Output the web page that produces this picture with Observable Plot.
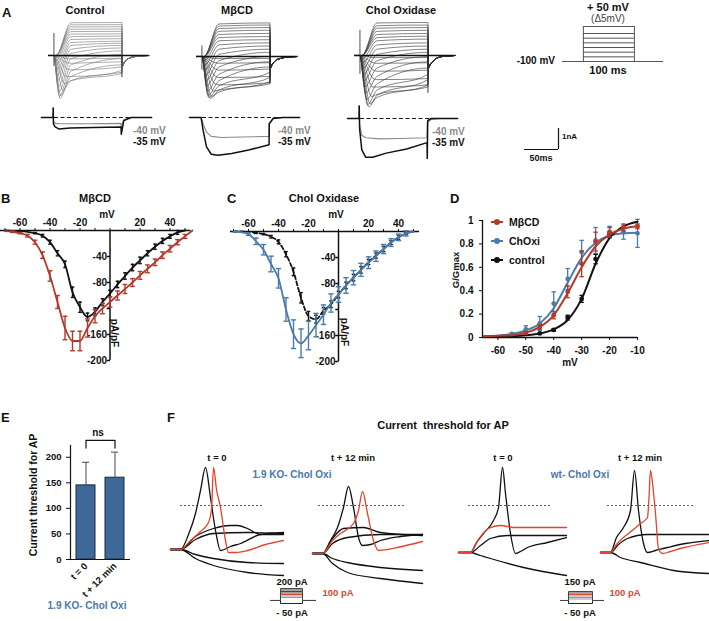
<!DOCTYPE html>
<html><head><meta charset="utf-8">
<script src="https://cdn.jsdelivr.net/npm/d3@7"></script>
<script src="https://cdn.jsdelivr.net/npm/@observablehq/plot@0.6"></script>
<style>
body{margin:0;background:#fff;}
#fig{position:relative;width:709px;height:621px;overflow:hidden;background:#fff;font-family:"Liberation Sans",Arial,Helvetica,sans-serif;color:#111;}
#fig .t{position:absolute;white-space:pre;font-weight:bold;line-height:1;}
#fig svg{overflow:visible;}
</style></head><body><div id="fig"></div>
<script>
// ---------------- DATA ----------------
// Panel A: voltage-clamp current families (nA); one entry per test step
const sweepVolts = [-60,-55,-50,-45,-40,-35,-30,-25,-20,-15,-10,-5,0,5,10,15,20,25,30,35,40,45,50];
const ctrlTp   = [20,20,20,20,18,16,13,10,9,8,7,6,5,4.5,4,3.5,3,3,3,3,3,3,3];
const ctrlPeak = [-0.05,-0.15,-0.35,-0.65,-1.0,-1.35,-1.65,-1.9,-2.05,-1.95,-1.75,-1.5,-1.2,-0.95,-0.7,-0.45,-0.25,-0.1,0,0,0,0,0];
const ctrlMid  = [-0.05,-0.16,-0.37,-0.68,-1.0,-1.2,-1.2,-1.0,-0.75,-0.45,-0.15,0.1,0.3,0.48,0.62,0.76,0.9,1.02,1.14,1.25,1.36,1.46,1.56];
const ctrlEnd  = [-0.04,-0.13,-0.3,-0.55,-0.8,-0.85,-0.7,-0.45,-0.15,0.05,0.22,0.36,0.48,0.58,0.68,0.8,0.92,1.03,1.15,1.26,1.37,1.47,1.57];
const mbTp   = [20,20,20,20,19,17,14,12,10,9,8,7,6,5,4.5,4,3.5,3,3,3,3,3,3];
const mbPeak = [-0.1,-0.3,-0.6,-0.95,-1.3,-1.65,-1.9,-2.0,-1.95,-1.85,-1.65,-1.4,-1.15,-0.9,-0.65,-0.4,-0.2,-0.05,0,0,0,0,0];
const mbMid  = [-0.1,-0.32,-0.65,-1.0,-1.35,-1.6,-1.7,-1.6,-1.4,-1.15,-0.85,-0.5,-0.2,0.1,0.35,0.55,0.75,0.9,1.05,1.2,1.33,1.45,1.55];
const mbEnd  = [-0.1,-0.3,-0.6,-0.95,-1.25,-1.3,-1.2,-1.0,-0.75,-0.5,-0.25,0,0.2,0.35,0.5,0.65,0.8,0.95,1.1,1.25,1.38,1.5,1.6];
const chTp   = [20,20,20,20,19,17,15,13,11,10,8,7,6,5,4.5,4,3.5,3,3,3,3,3,3];
const chPeak = [-0.1,-0.35,-0.7,-1.1,-1.5,-1.95,-2.3,-2.45,-2.35,-2.1,-1.8,-1.5,-1.2,-0.9,-0.6,-0.35,-0.15,0,0,0,0,0,0];
const chMid  = [-0.1,-0.37,-0.75,-1.15,-1.5,-1.85,-2.0,-1.9,-1.65,-1.35,-1.0,-0.6,-0.25,0.05,0.3,0.5,0.7,0.85,1.0,1.15,1.3,1.42,1.55];
const chEnd  = [-0.1,-0.35,-0.7,-1.1,-1.4,-1.5,-1.4,-1.15,-0.9,-0.6,-0.3,-0.05,0.15,0.3,0.45,0.6,0.78,0.92,1.05,1.2,1.33,1.45,1.57];
const tailT    = [100.6,103,108,115,125,140];
const ctrlTail = [-0.5,-0.35,-0.18,-0.08,-0.02,0];
const mbTail   = [-0.55,-0.4,-0.2,-0.1,-0.03,0];
const chTail   = [-0.6,-0.45,-0.25,-0.1,-0.03,0];
const artifactUp   = [1.05, 0.5, 1.2];   // onset capacitive spike (nA): control, MβCD, Chol
const artifactDown = [-1.05, -1.3, -1.8]; // offset spike (nA)
// Panel A lower row: -40 mV and -35 mV sweeps, [ms, nA]
const ctrlM40 = [[-17,0],[0,0],[0.2,0.45],[0.6,-0.2],[3,-0.28],[10,-0.3],[50,-0.3],[100,-0.28],[100.3,-0.45],[104,-0.1],[115,0],[145,0]];
const ctrlM35 = [[-17,0],[0,0],[0.2,0.45],[0.6,-0.3],[3,-0.45],[9,-0.55],[25,-0.5],[60,-0.48],[100,-0.45],[100.3,-0.8],[104,-0.15],[115,0],[145,0]];
const mbM40 = [[-17,0],[0,0],[3,-0.3],[8,-0.7],[15,-0.9],[30,-0.95],[60,-0.93],[100,-0.9],[100.3,-0.3],[106,-0.05],[120,0],[145,0]];
const mbM35 = [[-17,0],[0,0],[3,-0.6],[8,-1.4],[15,-1.75],[25,-1.8],[45,-1.72],[70,-1.55],[100,-1.3],[100.3,-0.3],[106,-0.05],[120,0],[145,0]];
const chM40 = [[-17,0],[0,0],[0.2,0.6],[0.8,-0.3],[4,-0.8],[10,-0.92],[30,-0.97],[60,-0.95],[100,-0.92],[100.3,-0.2],[106,-0.05],[120,0],[145,0]];
const chM35 = [[-17,0],[0,0],[0.2,0.6],[0.8,-0.5],[4,-1.5],[10,-1.85],[20,-1.85],[40,-1.65],[70,-1.45],[100,-1.15],[100.3,-1.9],[101,-0.1],[106,0],[145,0]];
// Protocol
const protoHold = -100;
const protoLevels = [-80,-60,-40,-20,0,20,50];
const protoT = [-41, 0, 100, 157];
const scaleBarMs = 50, scaleBarNA = 1;

// Panels B, C: I-V (pA/pF)
const ivV = [-70,-65,-60,-55,-50,-45,-40,-35,-30,-25,-20,-15,-10,-5,0,5,10,15,20,25,30,35,40,45,50,55];
const bCtrl    = [0,-0.5,-1,-2,-4,-8,-18,-35,-52,-95,-118,-133,-125,-110,-97,-83,-70,-57,-46,-35,-25,-16,-9,-3,0,null];
const bCtrlErr = [0,0,0,0,1,2,3,4,5,8,8,6,6,5,5,5,5,5,5,4,4,4,3,3,0,null];
const bMb      = [-1,-2,-4,-8,-18,-38,-70,-110,-150,-170,-170,-150,-132,-120,-110,-100,-90,-80,-69,-59,-49,-38,-28,-18,-9,0];
const bMbErr   = [0,1,1,2,3,5,8,10,18,15,15,14,10,8,8,7,7,6,6,6,5,5,5,4,3,0];
const cCtrl    = [0,0,-1,-2,-4,-8,-16,-35,-62,-102,-130,-135,-122,-112,-97,-83,-71,-59,-47,-37,-27,-17,-9,-3,0,null];
const cCtrlErr = [0,0,0,1,1,2,3,4,6,8,7,6,5,5,5,5,5,5,4,4,4,3,3,2,0,null];
const cCh      = [0,-1,-4,-15,-28,-50,-72,-120,-158,-172,-160,-144,-128,-110,-97,-83,-71,-59,-48,-38,-27,-17,-9,-3,0,null];
const cChErr   = [0,0,2,5,8,12,15,18,22,22,22,18,15,14,12,12,11,10,9,8,7,6,5,4,0,null];
const ivTicksX = [-70,-60,-50,-40,-30,-20,-10,0,10,20,30,40,50];
const ivLabelsX = [-60,-40,-20,20,40];
const ivTicksY = [-40,-80,-120,-160,-200];
const ivLabelsY = [-40,-80,-160,-200];

// Panel D: G/Gmax
const dFitV   = [-65,-60,-55,-50,-45,-40,-35,-30,-25,-20,-15,-10];
const dFitCtrl= [0.005,0.008,0.012,0.02,0.035,0.07,0.15,0.33,0.63,0.85,0.95,0.99];
const dFitMb  = [0.01,0.015,0.02,0.04,0.09,0.19,0.38,0.6,0.78,0.88,0.93,0.95];
const dFitCh  = [0.01,0.015,0.03,0.06,0.12,0.25,0.47,0.68,0.81,0.87,0.89,0.895];
const dCtrlV = [-45,-40,-35,-30,-25,-20], dCtrlG = [0.035,0.065,0.17,0.33,0.67,0.88], dCtrlE = [0.005,0.01,0.02,0.03,0.04,0.02];
const dMbV = [-50,-45,-40,-35,-30,-25,-20,-15,-10], dMbG = [0.04,0.09,0.19,0.39,0.63,0.82,0.9,0.94,0.95], dMbE = [0.01,0.02,0.03,0.05,0.11,0.08,0.04,0.03,0.02];
const dChV = [-55,-50,-45,-40,-35,-30,-25,-20,-15,-10], dChG = [0.03,0.07,0.12,0.29,0.5,0.73,0.83,0.9,0.9,0.89], dChE = [0.01,0.03,0.06,0.1,0.09,0.1,0.11,0.05,0.06,0.12];
const dTicksX = [-60,-50,-40,-30,-20,-10];
const dTicksY = [0,0.2,0.4,0.6,0.8,1];
const dLegend = ["MβCD","ChOxi","control"];

// Panel E
const eCats = ["t = 0","t + 12 min"];
const eMeans = [145,160];
const eErr = [45,50];
const eTicksY = [0,50,100,150,200];

// Panel F: membrane potential traces, [ms, mV]
const f1 = {
  black: [
    [[0,-65],[10,-65],[18,-50],[25,-29],[30,-6],[35,17],[40,-13],[45,-46],[50,-66],[60,-62],[70,-59],[90,-50],[113,-48]],
    [[0,-65],[10,-65],[25,-52],[43,-44],[60,-41],[67,-41],[77,-44],[90,-50],[113,-50]],
    [[0,-65],[10,-65],[25,-55],[43,-49],[77,-48],[113,-49]],
    [[0,-65],[10,-65],[25,-70],[43,-74],[77,-78],[113,-79]],
    [[0,-65],[10,-65],[25,-74],[43,-81],[77,-88],[113,-91]]
  ],
  red: [[0,-65],[10,-65],[20,-56],[30,-47],[38,-38],[41,-25],[43,17],[46,-5],[50,-23],[55,-56],[58,-68],[65,-68],[77,-66],[95,-60],[113,-56]]
};
const f2 = {
  black: [
    [[0,-65],[10,-65],[18,-52],[25,-39],[31,-19],[36,2],[41,-19],[46,-49],[50,-57],[58,-56],[68,-52],[88,-48],[110,-46]],
    [[0,-65],[10,-65],[20,-50],[31,-40],[51,-39],[68,-44],[110,-47]],
    [[0,-65],[10,-65],[20,-55],[35,-49],[68,-46],[110,-46]],
    [[0,-65],[10,-65],[20,-70],[35,-74],[68,-79],[110,-82]],
    [[0,-65],[10,-65],[20,-75],[35,-84],[68,-90],[110,-95]]
  ],
  red: [[0,-65],[10,-65],[20,-52],[28,-45],[41,-35],[46,-22],[50,-3],[55,-25],[61,-52],[66,-62],[75,-61],[85,-59],[110,-53]]
};
const f3 = {
  black: [
    [[0,-65],[12,-65],[18,-55],[25,-46],[35,-33],[40,-20],[44,20],[47,-6],[52,-46],[57,-66],[62,-64],[69,-60],[89,-55],[108,-50]],
    [[0,-65],[12,-65],[22,-58],[32,-51],[49,-48],[108,-48]],
    [[0,-65],[12,-65],[22,-68],[32,-71],[65,-80],[108,-88]]
  ],
  red: [[0,-65],[12,-65],[20,-52],[30,-41],[42,-38],[55,-40],[75,-40],[108,-40]]
};
const f4 = {
  black: [
    [[0,-65],[10,-65],[16,-50],[23,-40],[30,-23],[34,17],[38,-23],[43,-56],[47,-65],[55,-63],[67,-60],[85,-56],[109,-53]],
    [[0,-65],[10,-65],[18,-57],[27,-51],[47,-47],[109,-47]],
    [[0,-65],[10,-65],[20,-70],[40,-75],[73,-83],[109,-86]]
  ],
  red: [[0,-65],[10,-65],[16,-57],[23,-50],[33,-42],[40,-36],[47,-30],[48.5,-10],[50,17],[53,-5],[55,-26],[58,-61],[62,-66],[70,-64],[80,-61],[109,-55]]
};
const fThreshold = [-21,-17,-18,-18];
const stimLevelsKO = [200,175,150,125,100,75,50,-50];
const stimLevelsWT = [150,125,100,75,50,25,-50];
const stimRed = 100;

// ---------------- RENDER ----------------
const fig = document.getElementById("fig");
const FONT = '"Liberation Sans", Arial, Helvetica, sans-serif';
const RED = "#b3392c", BLUE = "#4b7bab", FRED = "#e6432b", TBLUE = "#4a78aa";
const baseStyle = {fontFamily: FONT, fontSize: "10px", fontWeight: "bold", background: "none", overflow: "visible", color: "#111"};
function place(node, left, top){ node.style.position="absolute"; node.style.left=left+"px"; node.style.top=top+"px"; fig.appendChild(node); }
function T(s, x, y, o={}){
  const d=document.createElement("div"); d.className="t"; d.textContent=s;
  d.style.left=x+"px"; d.style.top=y+"px"; d.style.fontSize=(o.size||11)+"px";
  if(o.color) d.style.color=o.color;
  if(o.normal) d.style.fontWeight="normal";
  const a=o.anchor||"middle";
  const tx=a==="middle"?"-50%":a==="end"?"-100%":"0";
  d.style.transform=`translate(${tx},-50%)`+(o.rotate?` rotate(${o.rotate}deg)`:"");
  fig.appendChild(d);
}

// ---- Panel A top traces ----
const PX_MS = 0.68, PX_NA = 21;
function topTraces(c, onsetX, baseY, color, k){
  const rows=[];
  sweepVolts.forEach((v,i)=>{
    const pts=[[-8,0],[0,0],[c.tp[i],c.peak[i]],[25,c.mid[i]],[100,c.end[i]], ...tailT.map((t,j)=>[t,c.tail[j]])];
    pts.forEach(([t,I])=>rows.push({v,t,I}));
  });
  const top=16, h=96;
  const p = Plot.plot({width:148*PX_MS, height:h, margin:0, style:baseStyle,
    x:{domain:[-8,140], axis:null},
    y:{domain:[-(top+h-baseY)/PX_NA,(baseY-top)/PX_NA], axis:null},
    marks:[
      Plot.line(rows,{x:"t",y:"I",z:"v",stroke:color,strokeWidth:0.6,curve:"monotone-x"}),
      Plot.ruleY([0],{stroke:"#111",strokeWidth:1.6}),
      Plot.ruleX([0],{y1:artifactDown[k]*0.5,y2:artifactUp[k],stroke:"#222",strokeWidth:0.8}),
      Plot.ruleX([100],{y1:artifactDown[k],y2:0,stroke:"#222",strokeWidth:0.9})
    ]});
  place(p, onsetX-8*PX_MS, top);
}
topTraces({tp:ctrlTp,peak:ctrlPeak,mid:ctrlMid,end:ctrlEnd,tail:ctrlTail}, 53, 55, "#777", 0);
topTraces({tp:mbTp,peak:mbPeak,mid:mbMid,end:mbEnd,tail:mbTail}, 201, 56, "#333", 1);
topTraces({tp:chTp,peak:chPeak,mid:chMid,end:chEnd,tail:chTail}, 359, 55, "#333", 2);

// ---- Panel A lower traces ----
function lowTraces(g, b, onsetX, baseY){
  const top=100, h=65;
  const p = Plot.plot({width:162*PX_MS, height:h, margin:0, style:baseStyle,
    x:{domain:[-17,145], axis:null},
    y:{domain:[-(top+h-baseY)/PX_NA,(baseY-top)/PX_NA], axis:null},
    marks:[
      Plot.ruleY([0],{stroke:"#111",strokeWidth:1,strokeDasharray:"4,2.5"}),
      Plot.line(g,{x:d=>d[0],y:d=>d[1],stroke:"#8a8a8a",strokeWidth:1.1}),
      Plot.line(b,{x:d=>d[0],y:d=>d[1],stroke:"#111",strokeWidth:1.5})
    ]});
  place(p, onsetX-17*PX_MS, top);
}
lowTraces(ctrlM40, ctrlM35, 53, 117);
lowTraces(mbM40, mbM35, 201, 117);
lowTraces(chM40, chM35, 359, 118);

// ---- Protocol ----
{
  const yPx = 35/150;
  const p = Plot.plot({width:101, height:45, margin:0, style:baseStyle,
    x:{domain:[protoT[0],protoT[3]], axis:null},
    y:{domain:[protoHold-4/yPx, 50+6/yPx], axis:null},
    marks:[
      Plot.ruleY([protoHold],{x1:protoT[0],x2:protoT[3],stroke:"#555",strokeWidth:1}),
      Plot.ruleY(protoLevels,{x1:protoT[1],x2:protoT[2],stroke:"#555",strokeWidth:1}),
      Plot.ruleX([protoT[1],protoT[2]],{y1:protoHold,y2:d3.max(protoLevels),stroke:"#555",strokeWidth:1})
    ]});
  place(p, 562, 20);
}
// ---- Scale bars ----
{
  const p = Plot.plot({width:40, height:30, margin:0, style:baseStyle,
    x:{domain:[0,40/PX_MS], axis:null},
    y:{domain:[-6/PX_NA, 24/PX_NA], axis:null},
    marks:[
      Plot.ruleY([0],{x1:0,x2:scaleBarMs,stroke:"#111",strokeWidth:1.2}),
      Plot.ruleX([scaleBarMs],{y1:0,y2:scaleBarNA,stroke:"#111",strokeWidth:1.2})
    ]});
  place(p, 524, 125);
}

// ---- Panels B, C ----
function ivPanel(left, top, xdom, A, Aerr, Acolor, Adash, B, Berr, Bcolor, capA, capB){
  const rows = ivV.map((v,i)=>({v, a:A[i], ae:Aerr[i], b:B[i], be:Berr[i]}));
  const ea = rows.filter(d=>d.a!=null && d.ae>0);
  const eb = rows.filter(d=>d.b!=null && d.be>0);
  const p = Plot.plot({width: (xdom[1]-xdom[0])*1.5+10, height:170, marginTop:30, marginBottom:10, marginLeft:0, marginRight:10,
    style:baseStyle,
    x:{domain:xdom}, y:{domain:[-200,0], axis:null},
    marks:[
      Plot.ruleY([0],{stroke:"#111",strokeWidth:1.5}),
      Plot.axisX({anchor:"top", ticks:ivTicksX, tickSize:3, tickPadding:2, label:null, tickFormat:d=>ivLabelsX.includes(d)?String(d):""}),
      Plot.ruleX([0],{y1:-200,y2:0,stroke:"#111",strokeWidth:1.5}),
      Plot.link(ivTicksY,{x1:-2.2,x2:0,y1:d=>d,y2:d=>d,stroke:"#111",strokeWidth:1.5}),
      Plot.text(ivLabelsY,{x:0,y:d=>d,dx:-3,textAnchor:"end",text:d=>String(d),fill:"#111"}),
      Plot.line(rows.filter(d=>d.a!=null),{x:"v",y:"a",stroke:Acolor,strokeWidth:1.8,strokeDasharray:Adash,curve:"monotone-x"}),
      Plot.ruleX(ea,{x:"v",y1:d=>d.a-d.ae,y2:d=>d.a+d.ae,stroke:Acolor,strokeWidth:1.4}),
      Plot.link(ea,{x1:d=>d.v-capA,x2:d=>d.v+capA,y1:d=>d.a-d.ae,y2:d=>d.a-d.ae,stroke:Acolor,strokeWidth:1.4}),
      Plot.link(ea,{x1:d=>d.v-capA,x2:d=>d.v+capA,y1:d=>d.a+d.ae,y2:d=>d.a+d.ae,stroke:Acolor,strokeWidth:1.4}),
      Plot.line(rows.filter(d=>d.b!=null),{x:"v",y:"b",stroke:Bcolor,strokeWidth:1.8,curve:"monotone-x"}),
      Plot.ruleX(eb,{x:"v",y1:d=>d.b-d.be,y2:d=>d.b+d.be,stroke:Bcolor,strokeWidth:1.4}),
      Plot.link(eb,{x1:d=>d.v-capB,x2:d=>d.v+capB,y1:d=>d.b-d.be,y2:d=>d.b-d.be,stroke:Bcolor,strokeWidth:1.4}),
      Plot.link(eb,{x1:d=>d.v-capB,x2:d=>d.v+capB,y1:d=>d.b+d.be,y2:d=>d.b+d.be,stroke:Bcolor,strokeWidth:1.4})
    ]});
  place(p, left, top);
}
ivPanel(0, 200, [-73,54], bCtrl, bCtrlErr, "#111", null, bMb, bMbErr, RED, 1.2, 1.6);
ivPanel(230, 201, [-72,54], cCtrl, cCtrlErr, "#111", "4,2.5", cCh, cChErr, BLUE, 1.2, 1.8);

// ---- Panel D ----
{
  const fit = dFitV.map((v,i)=>({v, c:dFitCtrl[i], m:dFitMb[i], h:dFitCh[i]}));
  const pts = (V,G,E)=>V.map((v,i)=>({v,g:G[i],e:E[i]}));
  const pc = pts(dCtrlV,dCtrlG,dCtrlE), pm = pts(dMbV,dMbG,dMbE), ph = pts(dChV,dChG,dChE);
  const err = (P,color)=>[
    Plot.ruleX(P,{x:"v",y1:d=>d.g-d.e,y2:d=>d.g+d.e,stroke:color,strokeWidth:1.3}),
    Plot.link(P,{x1:d=>d.v-0.8,x2:d=>d.v+0.8,y1:d=>d.g+d.e,y2:d=>d.g+d.e,stroke:color,strokeWidth:1.3}),
    Plot.link(P,{x1:d=>d.v-0.8,x2:d=>d.v+0.8,y1:d=>d.g-d.e,y2:d=>d.g-d.e,stroke:color,strokeWidth:1.3}),
    Plot.dot(P,{x:"v",y:"g",r:2.4,fill:color})
  ];
  const p = Plot.plot({width:210, height:175, marginLeft:42, marginRight:13, marginTop:15, marginBottom:43, style:baseStyle,
    x:{domain:[-65.5,-10], ticks:dTicksX, tickSize:3, label:null, tickFormat:d=>String(d)},
    y:{domain:[0,1], ticks:dTicksY, tickSize:3, label:null, tickFormat:d=>d===0?"0":d===1?"1":String(d)},
    marks:[
      Plot.ruleX([-65.5],{y1:0,y2:1,stroke:"#111",strokeWidth:1.3}),
      Plot.ruleY([0],{stroke:"#111",strokeWidth:1.3}),
      Plot.line(fit,{x:"v",y:"h",stroke:BLUE,strokeWidth:2,curve:"monotone-x"}),
      ...err(ph,BLUE),
      Plot.line(fit,{x:"v",y:"c",stroke:"#111",strokeWidth:2,curve:"monotone-x"}),
      ...err(pc,"#111"),
      Plot.line(fit,{x:"v",y:"m",stroke:RED,strokeWidth:2,curve:"monotone-x"}),
      ...err(pm,RED)
    ]});
  place(p, 440, 205);
  // legend
  const lg = document.createElement("div");
  const cols = [RED, BLUE, "#111"];
  lg.innerHTML = `<svg width="80" height="56" style="font-family:${FONT.replace(/"/g,"'")};font-weight:bold;font-size:10.5px">` +
    dLegend.map((n,i)=>`<line x1="3" x2="15" y1="${8+i*19}" y2="${8+i*19}" stroke="${cols[i]}" stroke-width="2"/><circle cx="9" cy="${8+i*19}" r="3" fill="${cols[i]}"/><text x="21" y="${8+i*19}" dy="0.35em" fill="#111">${n}</text>`).join("") + `</svg>`;
  place(lg, 488, 214);
}

// ---- Panel E ----
{
  const rows = eCats.map((c,i)=>({c, v:eMeans[i], e:eErr[i]}));
  const bLow = d3.max(rows,d=>d.v+d.e)+8, bHigh = bLow+15;
  const br = [{c:eCats[0],y:bLow},{c:eCats[0],y:bHigh},{c:eCats[1],y:bHigh},{c:eCats[1],y:bLow}];
  const p = Plot.plot({width:140, height:179, marginLeft:70, marginRight:10, marginTop:15, marginBottom:50,
    style:{...baseStyle, fontSize:"9.5px"},
    x:{domain:eCats, paddingInner:0.33, paddingOuter:0.17, tickSize:0, tickRotate:-45, tickPadding:5, label:null},
    y:{domain:[0,223], ticks:eTicksY, tickSize:4, label:null},
    marks:[
      Plot.ruleX(rows,{x:"c",y1:"v",y2:d=>d.v+d.e,stroke:"#666",strokeWidth:1.2}),
      Plot.tickY(rows,{x:"c",y:d=>d.v+d.e,insetLeft:6,insetRight:6,stroke:"#666",strokeWidth:1.2}),
      Plot.barY(rows,{x:"c",y:"v",fill:"#3d6897",stroke:"#1c2c3c",strokeWidth:1}),
      Plot.line(br,{x:"c",y:"y",stroke:"#111",strokeWidth:1.2}),
      Plot.ruleY([0],{stroke:"#111",strokeWidth:1.2}),
      Plot.frame({anchor:"left",stroke:"#111",strokeWidth:1.2})
    ]});
  place(p, 0, 430);
}

// ---- Panel F ----
function fPanel(f, left, top, wMs, thr, thrX){
  const marks = [Plot.ruleY([thr],{x1:thrX[0],x2:thrX[1],stroke:"#333",strokeWidth:0.8,strokeDasharray:"2,2"})];
  f.black.forEach(tr=>marks.push(Plot.line(tr,{x:d=>d[0],y:d=>d[1],stroke:"#111",strokeWidth:1.3,curve:"monotone-x"})));
  marks.push(Plot.line(f.red,{x:d=>d[0],y:d=>d[1],stroke:FRED,strokeWidth:1.3,curve:"monotone-x"}));
  const p = Plot.plot({width:wMs, height:130, margin:0, style:baseStyle,
    x:{domain:[0,wMs], axis:null}, y:{domain:[-106,24], axis:null}, marks});
  place(p, left, top);
}
fPanel(f1, 170, 460, 113, fThreshold[0], [10,92]);
fPanel(f2, 312, 464, 110, fThreshold[1], [6,93]);
fPanel(f3, 458, 463, 108, fThreshold[2], [10,94]);
fPanel(f4, 600, 463, 109, fThreshold[3], [7,93]);

function stimInset(levels, stimT, left){
  const rows=[];
  levels.forEach(L=>[[stimT[0],0],[stimT[1],0],[stimT[1],L],[stimT[2],L],[stimT[2],0],[stimT[3],0]].forEach(([t,y])=>rows.push({L,t,y})));
  const col = L => L===stimRed ? FRED : L>stimRed ? "#444" : L>0 ? "#999" : "#222";
  const p = Plot.plot({width:stimT[3], height:22, margin:0, style:baseStyle,
    x:{domain:[0,stimT[3]], axis:null}, y:{domain:[-117,250], axis:null},
    marks:[...levels.slice().reverse().map(L=>Plot.line(rows.filter(d=>d.L===L),{x:"t",y:"y",stroke:col(L),strokeWidth:1}))]});
  place(p, left, 585);
}
stimInset(stimLevelsKO, [0,10,32,45], 270);
stimInset(stimLevelsWT, [0,8,32,43], 560);

// ---------------- TEXT ----------------
T("A", 2, 12, {size:13, anchor:"start"});
T("Control", 85, 10); T("MβCD", 237, 10); T("Chol Oxidase", 401, 10);
T("-40 mV", 133, 131, {size:10, anchor:"start", color:"#8a8a8a"}); T("-35 mV", 133, 142, {size:10, anchor:"start"});
T("-40 mV", 278, 131, {size:10, anchor:"start", color:"#8a8a8a"}); T("-35 mV", 278, 142, {size:10, anchor:"start"});
T("-40 mV", 432, 132, {size:10, anchor:"start", color:"#8a8a8a"}); T("-35 mV", 432, 143, {size:10, anchor:"start"});
T("+ 50 mV", 608, 7, {size:11}); T("(Δ5mV)", 608, 19, {size:10, normal:true, color:"#444"});
T("-100 mV", 555, 61, {size:10, anchor:"end"}); T("100 ms", 608, 70, {size:11});
T("1nA", 562, 137, {size:8, anchor:"start"}); T("50ms", 541, 158, {size:9});
T("B", 1, 198, {size:13, anchor:"start"}); T("MβCD", 95, 198); T("mV", 107, 215, {size:10});
T("pA/pF", 114, 333, {size:10, rotate:90});
T("C", 227, 198, {size:13, anchor:"start"}); T("Chol Oxidase", 324, 198); T("mV", 336, 215, {size:10});
T("pA/pF", 344, 332, {size:10, rotate:90});
T("D", 450, 198, {size:13, anchor:"start"}); T("G/Gmax", 456, 270, {size:9.5, rotate:-90}); T("mV", 570, 363, {size:10});
T("E", 1, 417, {size:13, anchor:"start"}); T("Current threshold for AP", 33, 495, {size:10.5, rotate:-90});
T("ns", 98, 433, {size:10}); T("1.9 KO- Chol Oxi", 87, 606, {size:10, color:TBLUE});
T("F", 167, 417, {size:13, anchor:"start"}); T("Current  threshold for AP", 443, 425, {size:11});
T("t = 0", 217, 458, {size:9.5}); T("t + 12 min", 353, 458, {size:9.5});
T("1.9 KO- Chol Oxi", 292, 475, {size:10, color:TBLUE});
T("t = 0", 503, 458, {size:9.5}); T("t + 12 min", 640, 458, {size:9.5});
T("wt- Chol Oxi", 580, 475, {size:10, color:TBLUE});
T("200 pA", 292, 582, {size:9.5}); T("- 50 pA", 292, 613, {size:9.5}); T("100 pA", 338, 593, {size:9.5, color:FRED});
T("150 pA", 580, 582, {size:9.5}); T("- 50 pA", 580, 613, {size:9.5}); T("100 pA", 625, 593, {size:9.5, color:FRED});
</script></body></html>
